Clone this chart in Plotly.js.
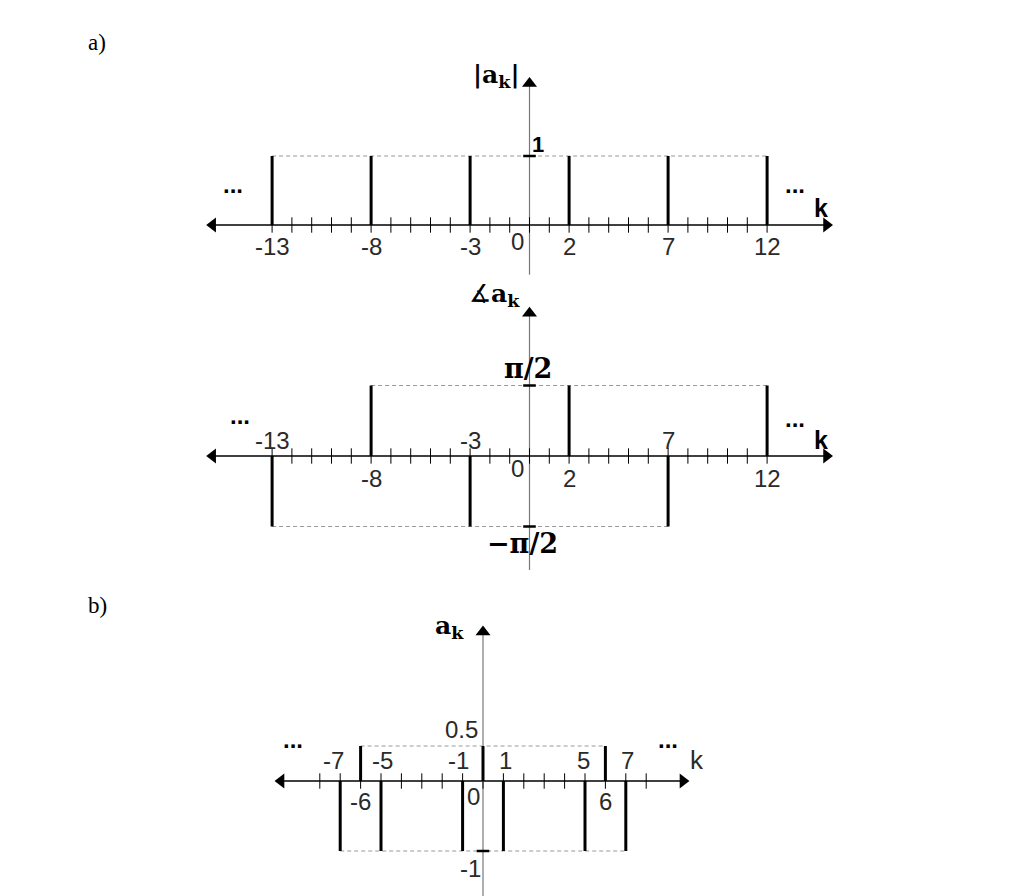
<!DOCTYPE html>
<html>
<head>
<meta charset="utf-8">
<script src="https://cdn.plot.ly/plotly-3.0.1.min.js"></script>
<style>html,body{margin:0;padding:0;background:#fff;}#chart{width:1024px;height:896px;}</style>
</head>
<body>
<div id="chart"></div>
<script>
// ---------- data ----------
const magK = [-13, -8, -3, 2, 7, 12];
const magVals = [1, 1, 1, 1, 1, 1];
const phaseK = [-13, -8, -3, 2, 7, 12];
const phaseVals = [-Math.PI / 2, Math.PI / 2, -Math.PI / 2, Math.PI / 2, -Math.PI / 2, Math.PI / 2];
const bK = [-7, -6, -5, -1, 0, 1, 5, 6, 7];
const bVals = [-1, 0.5, -1, -1, 0.5, -1, -1, 0.5, -1];

const aTickRange = [-13, 12];
const bTickRange = [-8, 8];

const magTickLabels = ['-13', '-8', '-3', '0', '2', '7', '12'];
const phaseTickLabelsAbove = ['-13', '-3', '7'];
const phaseTickLabelsBelow = ['-8', '0', '2', '12'];
const bLabelsAbove = ['-7', '-5', '-1', '1', '5', '7'];
const bLabelsBelow = ['-6', '0', '6'];

// ---------- helpers ----------
const BLACK = '#000';
const DASH = '#9a9a9a';
const tickFont = {family: 'Liberation Sans, Arial, sans-serif', size: 24, color: '#2a2a2a'};
const boldSerif = {family: 'DejaVu Serif, Liberation Serif, serif', size: 25, color: '#000', weight: 'bold'};
const piFont = {family: 'DejaVu Serif, Liberation Serif, serif', size: 27, color: '#000', weight: 'bold'};
const dotFont = {family: 'Liberation Sans, sans-serif', size: 24, color: '#000', weight: 'bold'};
const kBold = {family: 'Liberation Sans, sans-serif', size: 25, color: '#000', weight: 'bold'};

function stems(ks, vs, xa, ya) {
  const x = [], y = [];
  ks.forEach((k, i) => { x.push(k, k, null); y.push(0, vs[i], null); });
  return {x, y, xaxis: xa, yaxis: ya, mode: 'lines', line: {color: BLACK, width: 3}, hoverinfo: 'skip', showlegend: false};
}
function dashed(ks, vs, level, xa, ya) {
  const sel = ks.filter((k, i) => vs[i] === level);
  const lo = Math.min(...sel), hi = Math.max(...sel);
  return {x: [lo, hi], y: [level, level], xaxis: xa, yaxis: ya, mode: 'lines',
          line: {color: DASH, width: 1.2, dash: '4px,3px'}, hoverinfo: 'skip', showlegend: false};
}
function ticks(range, xa, ya) {
  const x = [];
  for (let k = range[0]; k <= range[1]; k++) x.push(k);
  return {x, y: x.map(() => 0), xaxis: xa, yaxis: ya, mode: 'markers',
          marker: {symbol: 'line-ns', size: 11, line: {color: BLACK, width: 1}}, hoverinfo: 'skip', showlegend: false};
}
function line(x, y, xa, ya, color, width) {
  return {x, y, xaxis: xa, yaxis: ya, mode: 'lines', line: {color, width}, hoverinfo: 'skip', showlegend: false};
}
function marks(x, y, sym, xa, ya, size) {
  return {x, y, xaxis: xa, yaxis: ya, mode: 'markers',
          marker: {symbol: sym, size: size || 13, color: BLACK, line: {width: 0}}, hoverinfo: 'skip', showlegend: false};
}
function hmark(x, y, xa, ya) {
  return {x: [x], y: [y], xaxis: xa, yaxis: ya, mode: 'markers',
          marker: {symbol: 'line-ew', size: 9, line: {color: BLACK, width: 2.5}}, hoverinfo: 'skip', showlegend: false};
}

const traces = [];
// ----- panel a: magnitude (x, y) -----
traces.push(line([-16.0, 15.0], [0, 0], 'x', 'y', BLACK, 1.6));
traces.push(marks([-16.0], [0], 'triangle-left', 'x', 'y'));
traces.push(marks([15.0], [0], 'triangle-right', 'x', 'y'));
traces.push(line([0, 0], [-0.72, 2.05], 'x', 'y', '#777', 1.2));
traces.push(marks([0], [2.05], 'triangle-up', 'x', 'y'));
traces.push(ticks(aTickRange, 'x', 'y'));
traces.push(dashed(magK, magVals, 1, 'x', 'y'));
traces.push(stems(magK, magVals, 'x', 'y'));
traces.push(hmark(0, 1, 'x', 'y'));

// ----- panel a: phase (x, y2) -----
traces.push(line([-16.0, 15.0], [0, 0], 'x', 'y2', BLACK, 1.6));
traces.push(marks([-16.0], [0], 'triangle-left', 'x', 'y2'));
traces.push(marks([15.0], [0], 'triangle-right', 'x', 'y2'));
traces.push(line([0, 0], [-2.54, 3.18], 'x', 'y2', '#777', 1.2));
traces.push(marks([0], [3.18], 'triangle-up', 'x', 'y2'));
traces.push(ticks(aTickRange, 'x', 'y2'));
traces.push(dashed(phaseK, phaseVals, Math.PI / 2, 'x', 'y2'));
traces.push(dashed(phaseK, phaseVals, -Math.PI / 2, 'x', 'y2'));
traces.push(stems(phaseK, phaseVals, 'x', 'y2'));
traces.push(hmark(0, Math.PI / 2, 'x', 'y2'));
traces.push(hmark(0, -Math.PI / 2, 'x', 'y2'));

// ----- panel b (x2, y3) -----
traces.push(line([-9.9, 9.8], [0, 0], 'x2', 'y3', BLACK, 1.6));
traces.push(marks([-9.9], [0], 'triangle-left', 'x2', 'y3'));
traces.push(marks([9.8], [0], 'triangle-right', 'x2', 'y3'));
traces.push(line([0, 0], [-1.7, 2.13], 'x2', 'y3', '#777', 1.2));
traces.push(marks([0], [2.13], 'triangle-up', 'x2', 'y3'));
traces.push(ticks(bTickRange, 'x2', 'y3'));
traces.push(dashed(bK, bVals, 0.5, 'x2', 'y3'));
traces.push(dashed(bK, bVals, -1, 'x2', 'y3'));
traces.push(stems(bK, bVals, 'x2', 'y3'));
traces.push(hmark(0, -1, 'x2', 'y3'));

// ---------- annotations ----------
const anns = [];
function ann(text, x, y, xref, yref, font, o) {
  anns.push(Object.assign({text, x, y, xref, yref, showarrow: false, font, xanchor: 'center', yanchor: 'middle'}, o || {}));
}
// panel a magnitude
magTickLabels.forEach(t => {
  const k = Number(t);
  if (k === 0) ann(t, k, 0, 'x', 'y', tickFont, {xshift: -12, yshift: -16});
  else ann(t, k, 0, 'x', 'y', tickFont, {yshift: -21});
});
ann('1', 0, 1, 'x', 'y', {family: 'Liberation Sans, sans-serif', size: 22, color: '#000', weight: 'bold'}, {xshift: 8, yshift: 12});
ann('|a<sub>k</sub>|', 0, 2.16, 'x', 'y', boldSerif, {xshift: -33});
ann('...', -15.0, 0.58, 'x', 'y', dotFont);
ann('...', 13.4, 0.58, 'x', 'y', dotFont);
ann('k', 14.7, 0.25, 'x', 'y', kBold);

// panel a phase
phaseTickLabelsAbove.forEach(t => ann(t, Number(t), 0, 'x', 'y2', tickFont, {yshift: 16}));
phaseTickLabelsBelow.forEach(t => {
  const k = Number(t);
  if (k === 0) ann(t, k, 0, 'x', 'y2', tickFont, {xshift: -12, yshift: -12});
  else ann(t, k, 0, 'x', 'y2', tickFont, {yshift: -22});
});
ann('π/2', -0.1, Math.PI / 2, 'x', 'y2', piFont, {yshift: 17});
ann('−π/2', -0.35, -Math.PI / 2, 'x', 'y2', piFont, {yshift: -17});
ann('<span style="font-weight:normal">∡</span>a<sub>k</sub>', 0, 3.59, 'x', 'y2', boldSerif, {xshift: -35});
ann('...', -14.6, 0.9, 'x', 'y2', dotFont);
ann('...', 13.4, 0.84, 'x', 'y2', dotFont);
ann('k', 14.7, 0.36, 'x', 'y2', kBold);

// panel b
const bAboveX = {'-7': -7.35, '-5': -4.95, '-1': -1.18, '1': 1.08, '5': 4.95, '7': 7.1};
bLabelsAbove.forEach(t => ann(t, bAboveX[t], 0, 'x2', 'y3', tickFont, {yshift: 21}));
bLabelsBelow.forEach(t => {
  const k = Number(t);
  if (k === 0) ann(t, -0.45, 0, 'x2', 'y3', tickFont, {yshift: -15});
  else ann(t, k, 0, 'x2', 'y3', tickFont, {yshift: -20});
});
ann('0.5', -1.05, 0.5, 'x2', 'y3', tickFont, {yshift: 17});
ann('-1', -0.6, -1, 'x2', 'y3', tickFont, {yshift: -17});
ann('a<sub>k</sub>', -1.65, 2.2, 'x2', 'y3', boldSerif);
ann('...', -9.3, 0.6, 'x2', 'y3', dotFont);
ann('...', 9.07, 0.6, 'x2', 'y3', dotFont);
ann('k', 10.5, 0.3, 'x2', 'y3', {family: 'Liberation Sans, sans-serif', size: 26, color: '#2a2a2a'});

// panel labels
const letterFont = {family: 'Liberation Serif, serif', size: 23, color: '#000'};
ann('a)', 97 / 1024, 1 - 43 / 896, 'paper', 'paper', letterFont);
ann('b)', 97 / 1024, 1 - 605 / 896, 'paper', 'paper', letterFont);

const hidden = {visible: false, fixedrange: true, domain: [0, 1]};
const layout = {
  width: 1024, height: 896,
  margin: {l: 0, r: 0, t: 0, b: 0, pad: 0},
  paper_bgcolor: '#fff', plot_bgcolor: 'rgba(0,0,0,0)',
  showlegend: false,
  xaxis: Object.assign({}, hidden, {range: [-529.5 / 19.8, (1024 - 529.5) / 19.8], anchor: 'y'}),
  xaxis2: Object.assign({}, hidden, {range: [-483 / 20.4, (1024 - 483) / 20.4], anchor: 'y3'}),
  yaxis: Object.assign({}, hidden, {range: [-(896 - 225) / 69, 225 / 69], anchor: 'x'}),
  yaxis2: Object.assign({}, hidden, {range: [-(896 - 456) / 44.88, 456 / 44.88], anchor: 'x', overlaying: 'y'}),
  yaxis3: Object.assign({}, hidden, {range: [-(896 - 781) / 70, 781 / 70], anchor: 'x2'}),
  annotations: anns
};

Plotly.newPlot('chart', traces, layout, {staticPlot: true, displayModeBar: false}).then(gd => {
  gd.querySelectorAll('text').forEach(t => { if (!t.textContent.trim()) t.remove(); });
});
</script>
</body>
</html>
